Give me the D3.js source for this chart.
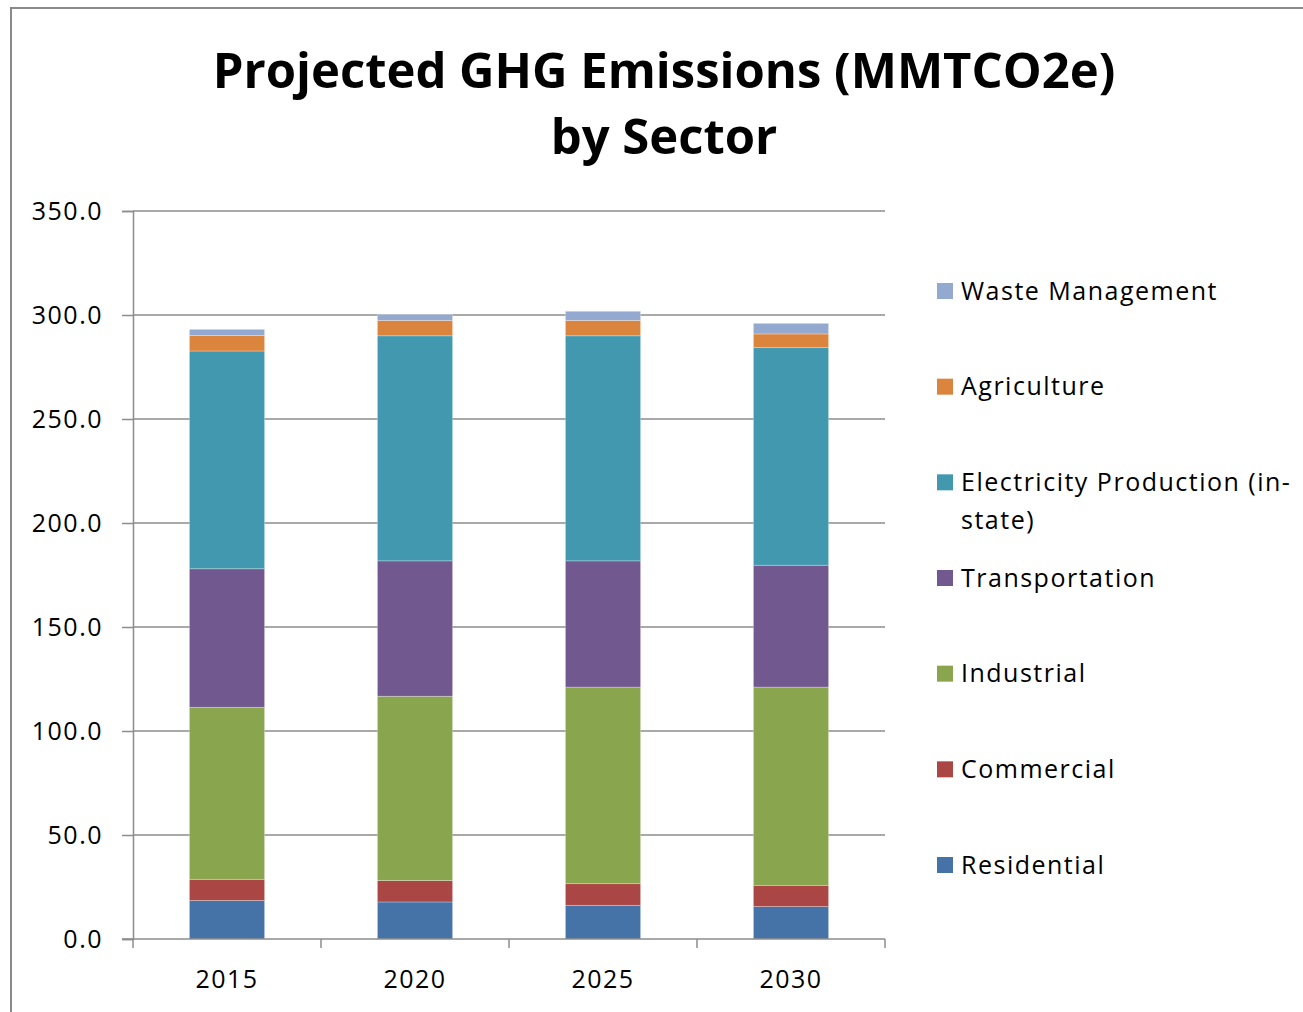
<!DOCTYPE html>
<html>
<head>
<meta charset="utf-8">
<script src="https://cdn.jsdelivr.net/npm/d3@7"></script>
<style>
  body { margin: 0; background: #fff; }
  svg text { font-family: "Open Sans", sans-serif; fill: #000; }
</style>
</head>
<body>
<div id="chart"></div>
<script>
// ----- data (MMTCO2e) -----
const years = ['2015', '2020', '2025', '2030'];
const sectors = ['Residential', 'Commercial', 'Industrial', 'Transportation',
                 'Electricity Production (in-state)', 'Agriculture', 'Waste Management'];
const residential    = [18.5, 17.8, 16.2, 15.6];
const commercial     = [10.2, 10.3, 10.4, 10.2];
const industrial     = [82.7, 88.6, 94.5, 95.3];
const transportation = [66.6, 65.1, 60.7, 58.6];
const electricity    = [104.7, 108.2, 108.2, 104.6];
const agriculture    = [7.5, 7.4, 7.4, 6.6];
const waste          = [2.9, 2.9, 4.4, 5.1];
const yTicks = [0, 50, 100, 150, 200, 250, 300, 350];

const sectorColors = ['#4572A7', '#AA4643', '#89A54E', '#71588F', '#4198AF', '#DB843D', '#93A9CF'];
const seriesVals = [residential, commercial, industrial, transportation, electricity, agriculture, waste];

// rows for d3.stack
const rows = years.map((y, i) => {
    let r = {year: y};
    sectors.forEach((s, k) => { r[s] = seriesVals[k][i]; });
    return r;
});

const svgWidth = 1303;
const svgHeight = 1012;
const plot = {left: 133, right: 885, top: 211, bottom: 939};
const labelSize = '25px';
const labelSpacing = '1.5px';

const svg = d3.select('#chart').append('svg')
    .attr('width', svgWidth)
    .attr('height', svgHeight);

// chart frame
svg.append('rect')
    .attr('x', 11).attr('y', 8)
    .attr('width', svgWidth + 20).attr('height', svgHeight + 20)
    .attr('fill', 'none')
    .attr('stroke', '#8a8a8a')
    .attr('stroke-width', 2);

// title
const title = svg.append('text')
    .attr('text-anchor', 'middle')
    .style('font-size', '49px')
    .style('font-weight', 'bold');
title.append('tspan').attr('x', 664).attr('y', 88).text('Projected GHG Emissions (MMTCO2e)');
title.append('tspan').attr('x', 664).attr('y', 154).text('by Sector');

// scales
const xScale = d3.scaleBand()
    .domain(years)
    .range([plot.left, plot.right])
    .paddingInner(0.6)
    .paddingOuter(0.3);
const yScale = d3.scaleLinear()
    .domain([0, 350])
    .range([plot.bottom, plot.top]);
const color = d3.scaleOrdinal().domain(sectors).range(sectorColors);

// gridlines
svg.append('g').selectAll('line')
    .data(yTicks.slice(1))
    .join('line')
    .attr('x1', plot.left).attr('x2', plot.right)
    .attr('y1', d => yScale(d)).attr('y2', d => yScale(d))
    .attr('stroke', '#8c8c8c')
    .attr('stroke-width', 1.5);

// y axis
const gLeft = svg.append('g')
    .attr('transform', `translate(${plot.left},0)`)
    .call(d3.axisLeft(yScale).tickValues(yTicks).tickFormat(d3.format('.1f')).tickSize(11).tickPadding(19));
gLeft.selectAll('path, line').attr('stroke', '#8c8c8c').attr('stroke-width', 1.5);
gLeft.selectAll('text')
    .style('font-size', labelSize)
    .style('letter-spacing', labelSpacing)
    .attr('fill', '#000');

// bars
const stacked = d3.stack().keys(sectors)(rows);
svg.append('g').selectAll('g')
    .data(stacked)
    .join('g')
    .attr('fill', d => color(d.key))
    .selectAll('rect')
    .data(d => d)
    .join('rect')
    .attr('x', d => xScale(d.data.year))
    .attr('y', d => yScale(d[1]))
    .attr('width', xScale.bandwidth())
    .attr('height', d => yScale(d[0]) - yScale(d[1]))
    .attr('stroke', 'rgba(255,255,255,0.35)')
    .attr('stroke-width', 0.8);

// x axis: line + ticks between categories
const gBottom = svg.append('g').attr('transform', `translate(0,${plot.bottom})`);
gBottom.append('line')
    .attr('x1', plot.left - 11).attr('x2', plot.right)
    .attr('stroke', '#8c8c8c').attr('stroke-width', 1.5);
const step = xScale.step();
gBottom.selectAll('line.tk')
    .data(d3.range(years.length + 1))
    .join('line')
    .attr('class', 'tk')
    .attr('x1', i => plot.left + i * step).attr('x2', i => plot.left + i * step)
    .attr('y1', 0).attr('y2', 9)
    .attr('stroke', '#8c8c8c').attr('stroke-width', 1.5);
gBottom.selectAll('text')
    .data(years)
    .join('text')
    .attr('x', d => xScale(d) + xScale.bandwidth() / 2)
    .attr('y', 49)
    .attr('text-anchor', 'middle')
    .style('font-size', labelSize)
    .style('letter-spacing', labelSpacing)
    .text(d => d);

// legend (top item = last series)
const legendRows = sectors.slice().reverse();
const legendY = d3.scalePoint().domain(legendRows).range([291, 865]);
const legend = svg.append('g');
const item = legend.selectAll('g')
    .data(legendRows)
    .join('g')
    .attr('transform', d => `translate(937,${legendY(d)})`);
item.append('rect')
    .attr('x', 0).attr('y', -8)
    .attr('width', 16).attr('height', 16)
    .attr('fill', d => color(d));
item.append('text')
    .attr('x', 24)
    .attr('dy', '0.35em')
    .style('font-size', labelSize)
    .style('letter-spacing', labelSpacing)
    .each(function(d) {
        const t = d3.select(this);
        if (d.startsWith('Electricity')) {
            t.append('tspan').attr('x', 24).text('Electricity Production (in-');
            t.append('tspan').attr('x', 24).attr('dy', 38).text('state)');
        } else {
            t.text(d);
        }
    });
</script>
</body>
</html>
